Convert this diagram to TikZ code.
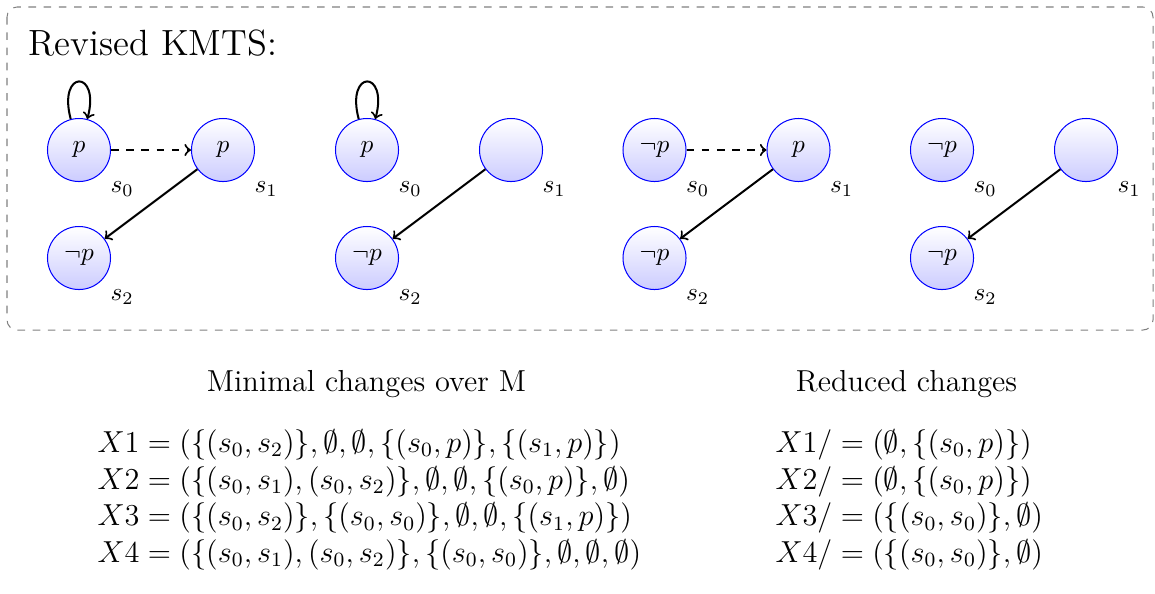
\documentclass[tikz,border=0pt]{standalone}
\usepackage{amsmath,amssymb}
\tikzset{
  st/.style={circle, draw=blue, top color=white, bottom color=blue!20, minimum size=24.9pt, inner sep=0pt, font=\normalsize},
  arr/.style={->, thick},
  darr/.style={->, thick, dashed},
  frame/.style={draw=gray, dashed, rounded corners=4pt},
  txt/.style={inner sep=0pt, font=\large},
}
\begin{document}
\begin{tikzpicture}[x=0.0138889cm, y=-0.0138889cm]
\useasboundingbox (0,0) rectangle (1155,593);
\draw[frame] (7,7) rectangle (1153,330);
\node[anchor=base west, inner sep=0pt, font=\Large] (title) at (28,55) {Revised KMTS:};
% graph 1
\node[st, label=below right:$s_0$] (a0) at (79,150) {$p$};
\node[st, label=below right:$s_1$] (a1) at (223,150) {$p$};
\node[st, label=below right:$s_2$] (a2) at (79,258) {$\neg p$};
\draw[arr] (a0) to[loop above] (a0);
\draw[darr] (a0) -- (a1);
\draw[arr] (a1) -- (a2);
% graph 2
\begin{scope}[shift={(288,0)}]
\node[st, label=below right:$s_0$] (b0) at (79,150) {$p$};
\node[st, label=below right:$s_1$] (b1) at (223,150) {};
\node[st, label=below right:$s_2$] (b2) at (79,258) {$\neg p$};
\draw[arr] (b0) to[loop above] (b0);
\draw[arr] (b1) -- (b2);
\end{scope}
% graph 3
\begin{scope}[shift={(575.5,0)}]
\node[st, label=below right:$s_0$] (c0) at (79,150) {$\neg p$};
\node[st, label=below right:$s_1$] (c1) at (223,150) {$p$};
\node[st, label=below right:$s_2$] (c2) at (79,258) {$\neg p$};
\draw[darr] (c0) -- (c1);
\draw[arr] (c1) -- (c2);
\end{scope}
% graph 4
\begin{scope}[shift={(863,0)}]
\node[st, label=below right:$s_0$] (d0) at (79,150) {$\neg p$};
\node[st, label=below right:$s_1$] (d1) at (223,150) {};
\node[st, label=below right:$s_2$] (d2) at (79,258) {$\neg p$};
\draw[arr] (d1) -- (d2);
\end{scope}
% bottom texts
\node[txt, anchor=base] (h1) at (366.5,391.7) {Minimal changes over M};
\node[txt, anchor=base] (h2) at (906.5,391.7) {Reduced changes};
\node[txt, anchor=base west] (m1) at (97,452.3) {$X1=(\{(s_0,s_2)\},\emptyset,\emptyset,\{(s_0,p)\},\{(s_1,p)\})$};
\node[txt, anchor=base west] (m2) at (97,489) {$X2=(\{(s_0,s_1),(s_0,s_2)\},\emptyset,\emptyset,\{(s_0,p)\},\emptyset)$};
\node[txt, anchor=base west] (m3) at (97,525.7) {$X3=(\{(s_0,s_2)\},\{(s_0,s_0)\},\emptyset,\emptyset,\{(s_1,p)\})$};
\node[txt, anchor=base west] (m4) at (97,562.3) {$X4=(\{(s_0,s_1),(s_0,s_2)\},\{(s_0,s_0)\},\emptyset,\emptyset,\emptyset)$};
\node[txt, anchor=base west] (r1) at (775,452.3) {$X1/=(\emptyset,\{(s_0,p)\})$};
\node[txt, anchor=base west] (r2) at (775,489) {$X2/=(\emptyset,\{(s_0,p)\})$};
\node[txt, anchor=base west] (r3) at (775,525.7) {$X3/=(\{(s_0,s_0)\},\emptyset)$};
\node[txt, anchor=base west] (r4) at (775,562.3) {$X4/=(\{(s_0,s_0)\},\emptyset)$};
\end{tikzpicture}
\end{document}
